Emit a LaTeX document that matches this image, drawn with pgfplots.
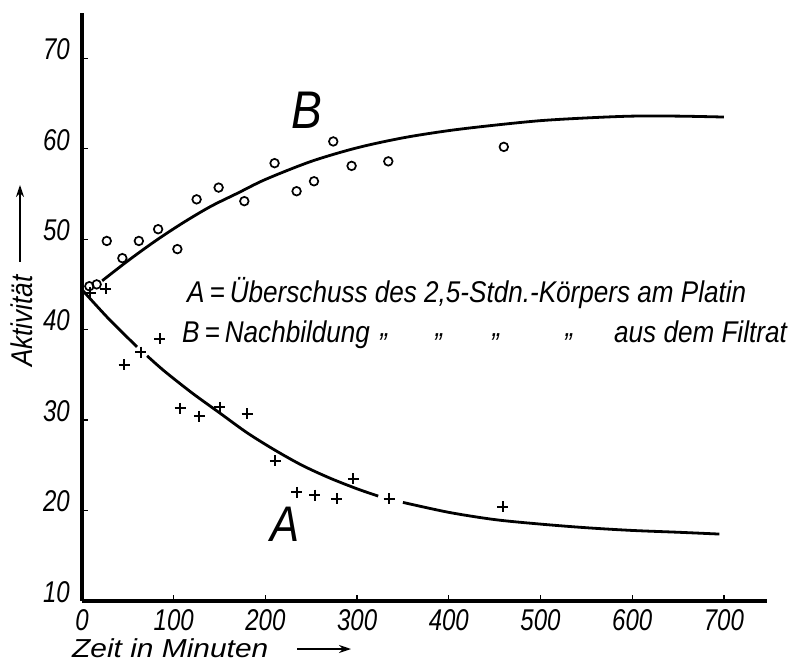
\documentclass[border=0pt]{standalone}
\usepackage{pgfplots}
\pgfplotsset{compat=1.18}
\usepackage{fontspec}
\setmainfont{Liberation Sans}[FakeStretch=0.87]
\newfontfamily\tickfam{Liberation Sans}[FakeStretch=0.8]
\newfontfamily\plainfam{Liberation Sans}[FakeStretch=1.15]
\usetikzlibrary{arrows.meta}
\newcommand{\lf}{\fontsize{30}{32}\selectfont\itshape}
\newcommand{\tf}{\tickfam\fontsize{30}{32}\selectfont\itshape}
\newcommand{\xf}{\plainfam\fontsize{26}{28}\selectfont\itshape}
\begin{document}
\begin{tikzpicture}
\begin{axis}[
  scale only axis, width=685pt, height=588pt,
  xmin=0, xmax=747, ymin=10, ymax=75,
  axis lines=left, axis line style={line width=3.8pt, -},
  xtick={0,100,...,700}, ytick={10,20,...,70},
  tick align=inside, major tick length=6pt, tick style={line width=1.3pt, black},
  /pgf/number format/assume math mode=true,
  ticklabel style={font=\tf, inner sep=0pt},
  yticklabel style={anchor=east, xshift=-12pt, yshift=9pt},
  xticklabel style={anchor=north, yshift=-8pt},
  clip=false,
]
% B circles
\addplot[only marks, mark=o, mark size=4.3pt, mark options={line width=1.7pt}] coordinates {
(8,44.8) (16,45.0) (27,49.8) (44,47.9) (62,49.8) (83,51.1) (104,48.9) (125,54.4)
(149,55.7) (177,54.2) (210,58.4) (234,55.3) (253,56.4) (274,60.8) (294,58.1) (334,58.6) (460,60.2)};
% A crosses
\addplot[only marks, mark=+, mark size=5.5pt, mark options={line width=2pt}] coordinates {
(9,44.1) (26,44.5) (46,36.1) (64,37.5) (85,39.0) (107,31.3) (128,30.4) (150,31.4)
(180,30.7) (211,25.5) (234,22.0) (254,21.7) (278,21.3) (296,23.5) (335,21.3) (459,20.4)};
% curve B
\addplot[smooth, no marks, line width=2.8pt] coordinates {
(22,45.4) (50,47.6) (80,49.8) (110,51.8) (140,53.6) (170,55.1) (200,56.6) (250,58.6)
(300,60.1) (350,61.2) (400,62.0) (450,62.6) (500,63.1) (550,63.4) (600,63.6) (650,63.6) (700,63.5)};
% curve A
\addplot[smooth, no marks, line width=2.8pt] coordinates {
(1,44.3) (30,41.1) (60,38.1)};
\addplot[smooth, no marks, line width=2.8pt] coordinates {
(71,37.1) (90,35.4) (120,33.0) (150,30.8) (180,28.6) (210,26.7) (240,25.0) (270,23.6) (300,22.4) (323,21.6)};
\addplot[smooth, no marks, line width=2.8pt] coordinates {
(350,20.9) (400,19.8) (450,19.0) (500,18.5) (550,18.1) (600,17.8) (650,17.6) (695,17.4)};
\end{axis}
% legend text
\node[anchor=base west, inner sep=0pt, font=\lf] at (105pt,298pt) {A\,=\,Überschuss des 2,5-Stdn.-Körpers am Platin};
\node[anchor=base west, inner sep=0pt, font=\lf] at (100pt,258pt) {B\,=\,Nachbildung};
\node[anchor=base, inner sep=0pt, font=\lf] at (303pt,264pt) {„};
\node[anchor=base, inner sep=0pt, font=\lf] at (358pt,264pt) {„};
\node[anchor=base, inner sep=0pt, font=\lf] at (415pt,264pt) {„};
\node[anchor=base, inner sep=0pt, font=\lf] at (488pt,264pt) {„};
\node[anchor=base west, inner sep=0pt, font=\lf] at (532pt,258pt) {aus dem Filtrat};
% curve labels
\node[inner sep=0pt, font=\fontsize{53}{53}\selectfont\itshape] at (225pt,491pt) {B};
\node[inner sep=0pt, font=\fontsize{50}{50}\selectfont\itshape] at (203pt,77pt) {A};
% axis labels
\node[rotate=90, anchor=base west, inner sep=0pt, font=\lf] at (-49pt,234pt) {Aktivität};
\draw[line width=1.5pt, -{Stealth[length=12pt,width=8pt]}] (-62pt,339pt) -- (-62pt,416pt);
\node[anchor=base west, inner sep=0pt, font=\xf] at (-10pt,-56pt) {Zeit in Minuten};
\draw[line width=1.5pt, -{Stealth[length=12pt,width=8pt]}] (215pt,-48pt) -- (269pt,-48pt);
\pgfresetboundingbox
\path[use as bounding box] (-82pt,-63pt) rectangle (715pt,601pt);
\end{tikzpicture}
\end{document}
